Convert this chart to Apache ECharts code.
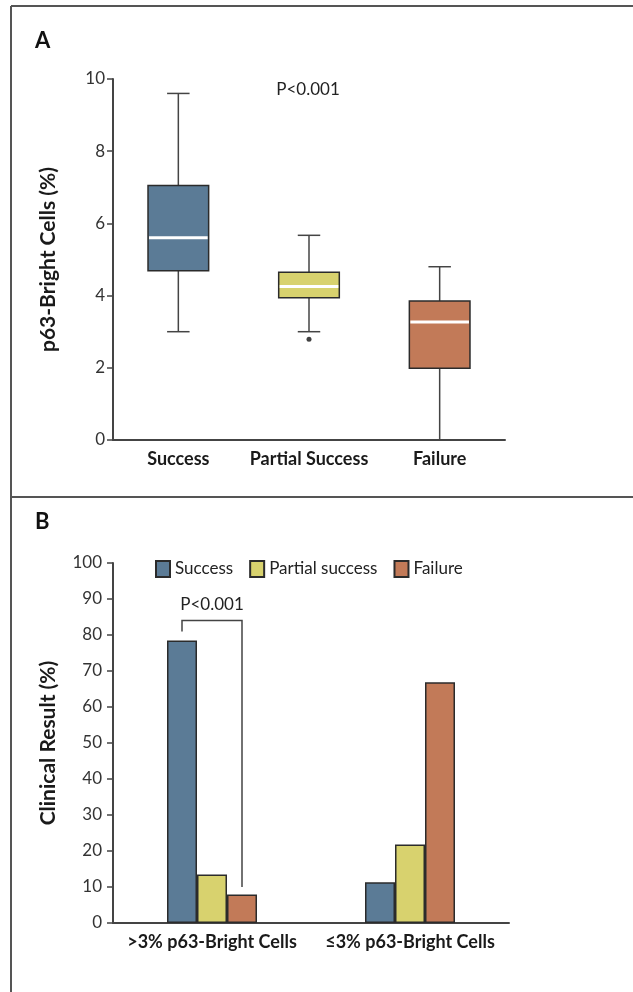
<!DOCTYPE html>
<html>
<head>
<meta charset="utf-8">
<script src="https://cdn.jsdelivr.net/npm/echarts@6/dist/echarts.min.js"></script>
<style>
  html, body { margin: 0; padding: 0; background: #fff; }
  #main { width: 633px; height: 992px; }
</style>
</head>
<body>
<div id="main"></div>
<script>
// ---- Panel A: p63-bright cells by clinical outcome ----
const outcomeCategories = ['Success', 'Partial Success', 'Failure'];
// each row: [min, Q1, median, Q3, max]
const successBox = [3.0, 4.69, 5.6, 7.05, 9.6];
const partialBox = [3.0, 3.94, 4.25, 4.65, 5.67];
const failureBox = [0.0, 1.99, 3.27, 3.85, 4.8];
const outlierPoints = [[1, 2.79]];
const panelAPValue = 'P<0.001';

// ---- Panel B: clinical result by p63-bright fraction ----
const groupCategories = ['>3% p63-Bright Cells', '≤3% p63-Bright Cells'];
const resultNames = ['Success', 'Partial success', 'Failure'];
const successPct = [78.5, 11.3];
const partialPct = [13.5, 21.8];
const failurePct = [7.9, 66.9];
// comparison bracket: [group, left leg end, bracket top, right leg end]
const bracketData = [[0, 81, 84, 10]];
const panelBPValue = 'P<0.001';

const COLORS = ['#5b7b96', '#d8d26e', '#c27a58'];
const EDGE = '#2b2b2b';
const AXIS = '#444444';
const FONT = 'Lato, "Open Sans", sans-serif';
const BAR_W = 30;

const chart = echarts.init(document.getElementById('main'), null, { renderer: 'canvas' });

function renderBox(params, api) {
  const cat = api.value(0);
  const band = api.size([1, 0])[0];
  const half = band * 0.232;
  const cap = band * 0.086;
  const pMin = api.coord([cat, api.value(1)]);
  const pQ1 = api.coord([cat, api.value(2)]);
  const pMed = api.coord([cat, api.value(3)]);
  const pQ3 = api.coord([cat, api.value(4)]);
  const pMax = api.coord([cat, api.value(5)]);
  const x = pMin[0];
  const ln = { stroke: AXIS, lineWidth: 1.5 };
  return {
    type: 'group',
    children: [
      { type: 'line', shape: { x1: x, y1: pMax[1], x2: x, y2: pQ3[1] }, style: ln },
      { type: 'line', shape: { x1: x, y1: pQ1[1], x2: x, y2: pMin[1] }, style: ln },
      { type: 'line', shape: { x1: x - cap, y1: pMax[1], x2: x + cap, y2: pMax[1] }, style: ln },
      { type: 'line', shape: { x1: x - cap, y1: pMin[1], x2: x + cap, y2: pMin[1] }, style: ln },
      {
        type: 'rect',
        shape: { x: x - half, y: pQ3[1], width: half * 2, height: pQ1[1] - pQ3[1] },
        style: { fill: COLORS[params.dataIndex], stroke: EDGE, lineWidth: 1.5 }
      },
      {
        type: 'line',
        shape: { x1: x - half + 1, y1: pMed[1], x2: x + half - 1, y2: pMed[1] },
        style: { stroke: '#ffffff', lineWidth: 3 }
      }
    ]
  };
}

function renderBracket(params, api) {
  const g = api.value(0);
  const pLeft = api.coord([g, api.value(1)]);
  const pTop = api.coord([g, api.value(2)]);
  const pRight = api.coord([g, api.value(3)]);
  const cx = pTop[0];
  return {
    type: 'group',
    children: [
      {
        type: 'polyline',
        shape: { points: [[cx - BAR_W, pLeft[1]], [cx - BAR_W, pTop[1]], [cx + BAR_W, pTop[1]], [cx + BAR_W, pRight[1]]] },
        style: { stroke: AXIS, lineWidth: 1.5, fill: null }
      },
      {
        type: 'text',
        x: cx,
        y: pTop[1] - 8,
        style: { text: panelBPValue, fill: '#222', font: '17px ' + FONT, textAlign: 'center', textVerticalAlign: 'bottom' }
      }
    ]
  };
}

const yAxisCommon = {
  type: 'value',
  axisLine: { show: true, lineStyle: { color: AXIS, width: 2 } },
  axisTick: { show: true, length: 6, lineStyle: { color: AXIS, width: 1.5 } },
  splitLine: { show: false },
  nameLocation: 'middle',
  nameRotate: 90,
  nameGap: 54,
  nameTextStyle: { color: '#1a1a1a', fontSize: 21, fontWeight: 'bold', fontFamily: FONT }
};
const xAxisCommon = {
  type: 'category',
  axisLine: { show: true, lineStyle: { color: AXIS, width: 2 } },
  axisTick: { show: false },
  axisLabel: { color: '#1a1a1a', fontSize: 18, fontWeight: 'bold', fontFamily: FONT, margin: 10, interval: 0 }
};

const boxRows = [successBox, partialBox, failureBox];

chart.setOption({
  animation: false,
  backgroundColor: '#ffffff',
  grid: [
    { left: 113, top: 79, width: 392, height: 361 },
    { left: 113, top: 563, width: 396, height: 360 }
  ],
  xAxis: [
    Object.assign({}, xAxisCommon, { gridIndex: 0, data: outcomeCategories }),
    Object.assign({}, xAxisCommon, { gridIndex: 1, data: groupCategories })
  ],
  yAxis: [
    Object.assign({}, yAxisCommon, {
      gridIndex: 0, min: 0, max: 10, interval: 2, name: 'p63-Bright Cells (%)',
      axisLabel: { color: '#333', fontSize: 17, fontFamily: FONT, margin: 8 }
    }),
    Object.assign({}, yAxisCommon, {
      gridIndex: 1, min: 0, max: 100, interval: 10, name: 'Clinical Result (%)',
      axisLabel: { color: '#333', fontSize: 17, fontFamily: FONT, margin: 11 }
    })
  ],
  legend: {
    data: resultNames,
    left: 150,
    top: 555,
    icon: 'rect',
    itemWidth: 14,
    itemHeight: 16,
    itemGap: 16,
    textStyle: { color: '#222', fontSize: 17, fontFamily: FONT }
  },
  series: [
    {
      type: 'custom',
      xAxisIndex: 0,
      yAxisIndex: 0,
      renderItem: renderBox,
      encode: { x: 0, y: [1, 2, 3, 4, 5] },
      data: boxRows.map((row, i) => [i].concat(row)),
      silent: true
    },
    {
      type: 'scatter',
      xAxisIndex: 0,
      yAxisIndex: 0,
      symbolSize: 5,
      itemStyle: { color: '#111' },
      data: outlierPoints,
      silent: true
    },
    {
      name: resultNames[0], type: 'bar', xAxisIndex: 1, yAxisIndex: 1,
      barWidth: BAR_W, barGap: '0%', data: successPct,
      itemStyle: { color: COLORS[0], borderColor: EDGE, borderWidth: 1.5 }
    },
    {
      name: resultNames[1], type: 'bar', xAxisIndex: 1, yAxisIndex: 1,
      barWidth: BAR_W, barGap: '0%', data: partialPct,
      itemStyle: { color: COLORS[1], borderColor: EDGE, borderWidth: 1.5 }
    },
    {
      name: resultNames[2], type: 'bar', xAxisIndex: 1, yAxisIndex: 1,
      barWidth: BAR_W, barGap: '0%', data: failurePct,
      itemStyle: { color: COLORS[2], borderColor: EDGE, borderWidth: 1.5 }
    },
    {
      type: 'custom',
      xAxisIndex: 1,
      yAxisIndex: 1,
      renderItem: renderBracket,
      encode: { x: 0, y: [1, 2, 3] },
      data: bracketData,
      silent: true,
      z: 5
    }
  ],
  graphic: [
    // figure frame and panel divider
    { type: 'line', shape: { x1: 11, y1: 6, x2: 633, y2: 6 }, style: { stroke: '#555', lineWidth: 2 } },
    { type: 'line', shape: { x1: 11, y1: 6, x2: 11, y2: 992 }, style: { stroke: '#555', lineWidth: 2 } },
    { type: 'line', shape: { x1: 11, y1: 497, x2: 633, y2: 497 }, style: { stroke: '#555', lineWidth: 2 } },
    // panel letters
    { type: 'text', left: 35, top: 30, style: { text: 'A', fill: '#111', font: 'bold 22px ' + FONT } },
    { type: 'text', left: 35, top: 511, style: { text: 'B', fill: '#111', font: 'bold 22px ' + FONT } },
    // overall test result for panel A
    { type: 'text', x: 308, y: 90, style: { text: panelAPValue, fill: '#222', font: '17px ' + FONT, textAlign: 'center', textVerticalAlign: 'middle' } }
  ]
});
</script>
</body>
</html>
